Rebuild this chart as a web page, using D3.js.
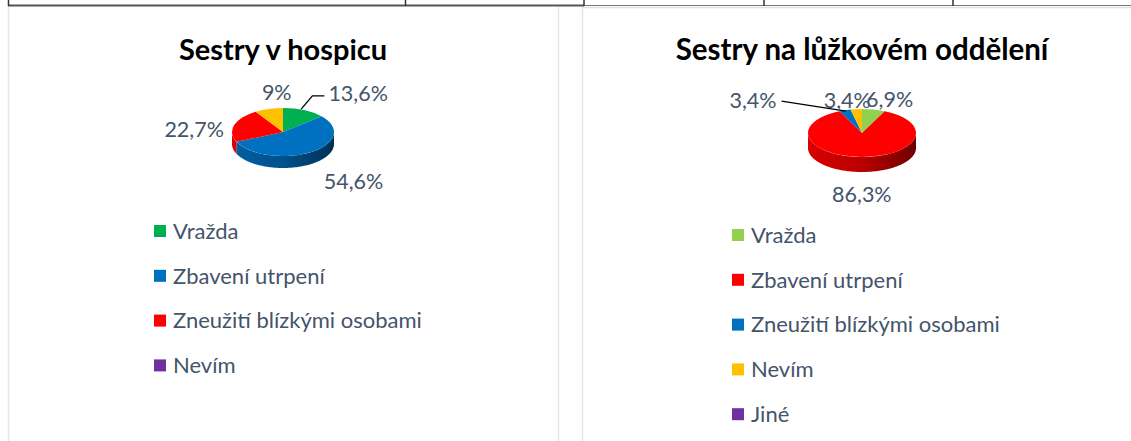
<!DOCTYPE html>
<html>
  <head>
    <meta charset="utf-8" />
    <title>Sestry - pie charts</title>
    <style>
      body,
      html {
        margin: 0;
        padding: 0;
        background: #fff;
      }
      text {
        font-family: Lato, 'Open Sans', sans-serif;
      }
    </style>
  </head>
  <body>
    <svg id="svg" width="1131" height="441"></svg>
    <script src="https://cdn.jsdelivr.net/npm/d3@7"></script>
    <script>
      // hospic
      const leftCategories = ['Vražda', 'Zbavení utrpení', 'Zneužití blízkými osobami', 'Nevím'];
      const leftValues = [13.6, 54.6, 22.7, 9];
      const leftSliceColors = ['#00B050', '#0070C0', '#FF0000', '#FFC000'];
      const leftLegendColors = ['#00B050', '#0070C0', '#FF0000', '#7030A0'];

      // lůžkové oddělení
      const rightCategories = ['Vražda', 'Zbavení utrpení', 'Zneužití blízkými osobami', 'Nevím', 'Jiné'];
      const rightValues = [6.9, 86.3, 3.4, 3.4, 0];
      const rightColors = ['#92D050', '#FF0000', '#0070C0', '#FFC000', '#7030A0'];

      const textColor = '#44546A';
      const svg = d3.select('#svg');

      const fmt = (v) => String(v).replace('.', ',') + '%';

      // table remains at the top of the page + panel frames
      const frame = svg.append('g');
      frame.append('line').attr('x1', 8.5).attr('x2', 8.5).attr('y1', 7).attr('y2', 441).attr('stroke', '#e1e5ec').attr('stroke-width', 1.5);
      frame.append('line').attr('x1', 558.5).attr('x2', 558.5).attr('y1', 7).attr('y2', 441).attr('stroke', '#e1e5ec').attr('stroke-width', 1.5);
      frame.append('line').attr('x1', 582.5).attr('x2', 582.5).attr('y1', 7).attr('y2', 441).attr('stroke', '#e1e5ec').attr('stroke-width', 1.5);
      frame.append('line').attr('x1', 582).attr('x2', 1131).attr('y1', 7.5).attr('y2', 7.5).attr('stroke', '#dde2ea').attr('stroke-width', 1.5);
      frame.append('line').attr('x1', 8).attr('x2', 584).attr('y1', 5.5).attr('y2', 5.5).attr('stroke', '#555').attr('stroke-width', 2);
      frame.append('line').attr('x1', 584).attr('x2', 1131).attr('y1', 5.5).attr('y2', 5.5).attr('stroke', '#777').attr('stroke-width', 1.2);
      [8.5, 405.5, 584, 764, 953].forEach((x) => {
        frame.append('line').attr('x1', x).attr('x2', x).attr('y1', 0).attr('y2', 6).attr('stroke', '#333').attr('stroke-width', 1.5);
      });

      const defs = svg.append('defs');

      const drawPie = (cfg) => {
        const g = svg.append('g');
        const { cx, cy, rx, ry, depth } = cfg;

        g.append('text')
          .attr('x', cx)
          .attr('y', 60)
          .attr('text-anchor', 'middle')
          .attr('font-weight', 'bold')
          .attr('font-size', cfg.titleSize)
          .attr('fill', '#000')
          .text(cfg.title);

        const arcs = d3.pie().sort(null).value((d) => d)(cfg.values);

        const px = (a) => cx + rx * Math.sin(a);
        const py = (a) => cy - ry * Math.cos(a);

        // shaded side walls (front half only)
        const line = d3.line();
        arcs.forEach((d, i) => {
          const s = Math.max(d.startAngle, Math.PI / 2);
          const e = Math.min(d.endAngle, (3 * Math.PI) / 2);
          if (e <= s) return;
          const id = `grad-${cfg.id}-${i}`;
          const c = d3.color(cfg.colors[i]);
          const grad = defs
            .append('linearGradient')
            .attr('id', id)
            .attr('gradientUnits', 'userSpaceOnUse')
            .attr('x1', cx - rx)
            .attr('x2', cx + rx)
            .attr('y1', 0)
            .attr('y2', 0);
          grad.append('stop').attr('offset', 0).attr('stop-color', c.darker(0.45));
          grad.append('stop').attr('offset', 0.5).attr('stop-color', c.darker(0.9));
          grad.append('stop').attr('offset', 1).attr('stop-color', c.darker(2.3));
          const angles = d3.range(s, e, 0.02).concat([e]);
          const pts = angles.map((a) => [px(a), py(a)]);
          const back = angles
            .slice()
            .reverse()
            .map((a) => [px(a), py(a) + depth]);
          g.append('path')
            .attr('d', line(pts.concat(back)) + 'Z')
            .attr('fill', `url(#${id})`);
        });

        // top face
        const arc = d3.arc().innerRadius(0).outerRadius(rx);
        g.append('g')
          .attr('transform', `translate(${cx},${cy}) scale(1,${ry / rx})`)
          .selectAll('path')
          .data(arcs)
          .enter()
          .append('path')
          .attr('d', arc)
          .attr('fill', (d, i) => cfg.colors[i]);

        // data labels
        arcs.forEach((d, i) => {
          if (d.value === 0) return;
          const mid = (d.startAngle + d.endAngle) / 2;
          const ax = px(mid);
          const ay = py(mid);
          const [dx, dy] = cfg.nudges[i];
          const t = g
            .append('text')
            .attr('x', ax + dx)
            .attr('y', ay + dy)
            .attr('dy', '0.35em')
            .attr('text-anchor', 'middle')
            .attr('font-size', cfg.labelSize)
            .attr('fill', textColor)
            .text(fmt(d.value));
          const lead = cfg.leaders[i];
          if (!lead) return;
          const bb = t.node().getBBox();
          let pts;
          if (lead === 'right') {
            const y = bb.y + bb.height * 0.62;
            pts = [[ax - 3, ay - 1], [bb.x - 16, y], [bb.x - 4, y]];
          } else {
            const y = bb.y + bb.height * 0.55;
            pts = [[bb.x + bb.width + 5, y], [ax + 1, ay + 1]];
          }
          g.append('path').attr('d', line(pts)).attr('fill', 'none').attr('stroke', '#000').attr('stroke-width', 1.3);
        });

        // legend
        const lg = g.append('g');
        const rows = lg
          .selectAll('g')
          .data(cfg.categories)
          .enter()
          .append('g')
          .attr('transform', (d, i) => `translate(${cfg.legendX},${cfg.legendY + i * 44.8})`);
        rows
          .append('rect')
          .attr('x', 0)
          .attr('y', -6)
          .attr('width', 12)
          .attr('height', 12)
          .attr('fill', (d, i) => cfg.legendColors[i]);
        rows
          .append('text')
          .attr('x', 19)
          .attr('dy', '0.35em')
          .attr('font-size', cfg.legendSize)
          .attr('fill', textColor)
          .text((d) => d);
      };

      drawPie({
        id: 'l',
        title: 'Sestry v hospicu',
        titleSize: 29,
        values: leftValues,
        categories: leftCategories,
        colors: leftSliceColors,
        legendColors: leftLegendColors,
        cx: 283,
        cy: 132,
        rx: 51,
        ry: 24,
        depth: 12,
        labelSize: 21.5,
        nudges: [[54, -17], [43, 29], [-40, 4], [8, -16]],
        leaders: ['right', null, null, null],
        legendX: 154,
        legendY: 231,
        legendSize: 22
      });

      drawPie({
        id: 'r',
        title: 'Sestry na lůžkovém oddělení',
        titleSize: 29.5,
        values: rightValues,
        categories: rightCategories,
        colors: rightColors,
        legendColors: rightColors,
        cx: 862,
        cy: 133,
        rx: 54,
        ry: 24,
        depth: 15,
        labelSize: 21.5,
        nudges: [[16, -10], [0, 37], [-92, -10], [-9, -9]],
        leaders: [null, null, 'left', null],
        legendX: 732,
        legendY: 235,
        legendSize: 22
      });
    </script>
  </body>
</html>
